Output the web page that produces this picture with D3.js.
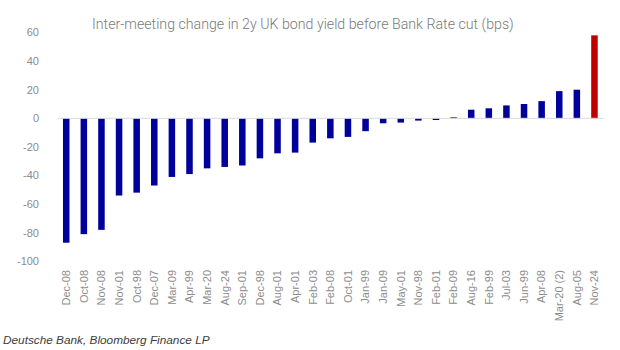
<!DOCTYPE html>
<html><head><meta charset="utf-8">
<script src="https://cdn.jsdelivr.net/npm/d3@7"></script>
<style>body{margin:0;background:#fff}</style>
</head><body>
<svg id="c" width="620" height="350"></svg>
<script>
const categories = ["Dec-08","Oct-08","Nov-08","Nov-01","Oct-98","Dec-07","Mar-09","Apr-99","Mar-20","Aug-24","Sep-01","Dec-98","Aug-01","Apr-01","Feb-03","Feb-08","Oct-01","Jan-99","Jan-09","May-01","Nov-98","Feb-01","Feb-09","Aug-16","Feb-99","Jul-03","Jun-99","Apr-08","Mar-20 (2)","Aug-05","Nov-24"];
const values = [-87,-81,-78,-54,-52,-47,-41,-39,-35,-34,-33,-28,-24.5,-24,-17,-14,-13,-9,-3.5,-3,-1.6,-1.2,0.7,6,7,9,10,12,19,20,58];
const yTicks = [60,40,20,0,-20,-40,-60,-80,-100];
const highlight = "Nov-24";

const svg = d3.select("#c");
const x = d3.scaleBand().domain(categories).range([57.7,603]).paddingInner(0.63).paddingOuter(0.3);
const y = d3.scaleLinear().domain([-100,60]).range([261.3,32.5]);

// y tick labels
svg.append("g").selectAll("text").data(yTicks).join("text")
  .attr("x",39).attr("y",d=>y(d)).attr("dy","0.35em")
  .attr("text-anchor","end").attr("font-family","Liberation Sans, Arial, sans-serif")
  .attr("font-size",11).attr("fill","#8c8c8c").text(d=>d);

// bars
svg.append("g").selectAll("rect").data(values).join("rect")
  .attr("x",(d,i)=>x(categories[i]))
  .attr("width",x.bandwidth())
  .attr("y",d=>y(Math.max(0,d)))
  .attr("height",d=>Math.abs(y(d)-y(0)))
  .attr("fill",(d,i)=>categories[i]===highlight?"#c00000":"#00009a");

// zero line
svg.append("line").attr("x1",57.7).attr("x2",603).attr("y1",y(0)).attr("y2",y(0))
  .attr("stroke","#d9d9d9").attr("stroke-width",1);

// x labels
svg.append("g").selectAll("text").data(categories).join("text")
  .attr("transform",d=>`translate(${x(d)+x.bandwidth()/2},270) rotate(-90)`)
  .attr("dy","0.35em").attr("text-anchor","end")
  .attr("font-family","Liberation Sans, Arial, sans-serif")
  .attr("font-size",11).attr("fill","#8c8c8c").text(d=>d);

// title
svg.append("text").attr("x",92).attr("y",29)
  .attr("font-family","Roboto, sans-serif").attr("font-weight",300)
  .attr("font-size",14.2).attr("fill","#7a7a7a")
  .text("Inter-meeting change in 2y UK bond yield before Bank Rate cut (bps)");

// source
svg.append("text").attr("x",3).attr("y",344)
  .attr("font-family","Liberation Sans, Arial, sans-serif").attr("font-style","italic")
  .attr("font-size",11.8).attr("fill","#404040")
  .text("Deutsche Bank, Bloomberg Finance LP");
</script>
</body></html>
